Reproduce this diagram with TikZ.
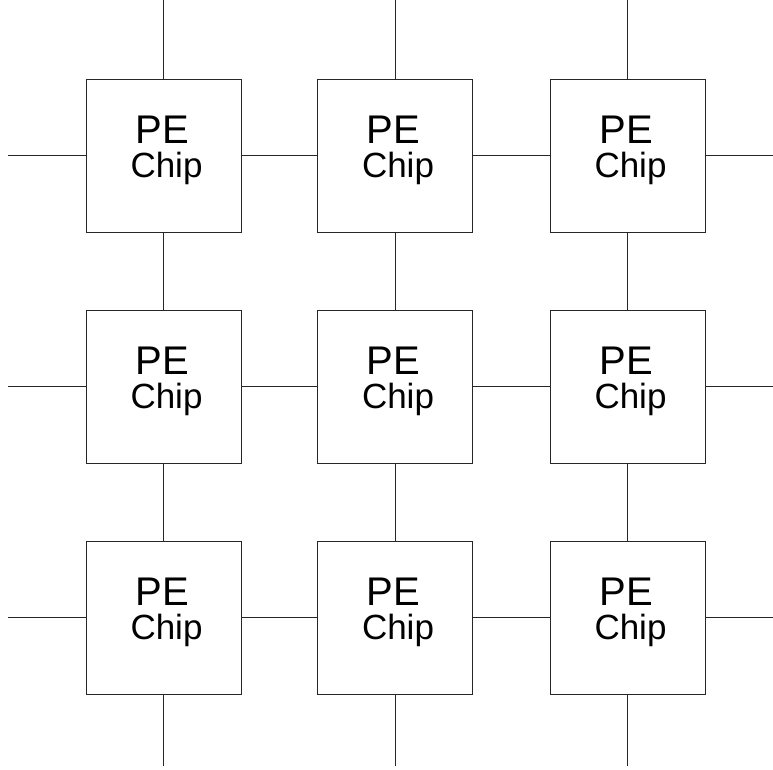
\documentclass[tikz,border=0pt]{standalone}
\usepackage{fontspec}
\setmainfont{Liberation Sans}
\begin{document}
\begin{tikzpicture}[x=1pt,y=-1pt,
  chip/.style={draw=black!85,line width=0.8pt,minimum width=155pt,minimum height=153pt,inner sep=0pt},
  pelabel/.style={anchor=base,inner sep=0pt,font=\fontsize{40}{40}\selectfont},
  chiplabel/.style={anchor=base,inner sep=0pt,font=\fontsize{35}{35}\selectfont},
  wire/.style={draw=black!85,line width=0.8pt}]
\useasboundingbox (0,0) rectangle (773,769);
\foreach \c/\x in {1/163.5,2/395,3/627.5}{
  \foreach \r/\y in {1/155.5,2/386.5,3/617.5}{
    \node[chip] (b\r\c) at (\x,\y) {};
    \node[pelabel] (p\r\c) at (\x-1.5,\y-12.5) {PE};
    \node[chiplabel] (c\r\c) at (\x+3,\y+21.5) {Chip};
  }
}
% edge coordinates
\foreach \r/\y in {1/155.5,2/386.5,3/617.5}{
  \coordinate (l\r) at (8,\y);
  \coordinate (r\r) at (773,\y);
}
\foreach \c/\x in {1/163.5,2/395,3/627.5}{
  \coordinate (t\c) at (\x,0);
  \coordinate (d\c) at (\x,766);
}
\foreach \r in {1,2,3}{
  \draw[wire] (l\r) -- (b\r1.west);
  \draw[wire] (b\r1.east) -- (b\r2.west);
  \draw[wire] (b\r2.east) -- (b\r3.west);
  \draw[wire] (b\r3.east) -- (r\r);
}
\foreach \c in {1,2,3}{
  \draw[wire] (t\c) -- (b1\c.north);
  \draw[wire] (b1\c.south) -- (b2\c.north);
  \draw[wire] (b2\c.south) -- (b3\c.north);
  \draw[wire] (b3\c.south) -- (d\c);
}
\end{tikzpicture}
\end{document}
